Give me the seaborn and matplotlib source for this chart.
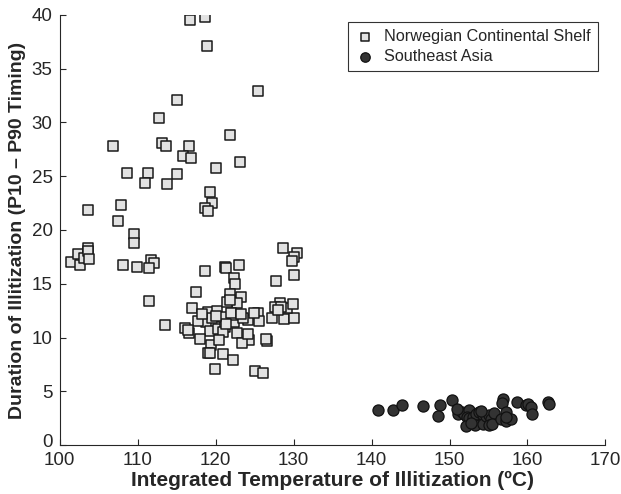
import pandas as pd
import matplotlib
matplotlib.use("Agg")
import matplotlib.pyplot as plt
import matplotlib.transforms as mtransforms
import seaborn as sns

# Norwegian Continental Shelf: integrated temperature vs duration
ncs_temp = [
    116.7, 118.7, 118.9, 125.5, 115.0, 112.7, 121.8, 113.1, 113.7, 116.6,
    106.9, 115.8, 116.8, 123.1, 120.0, 108.7, 111.3, 115.0, 110.9, 113.8,
    119.3, 119.6, 118.7, 119.0, 107.9, 107.5, 103.7, 109.6, 109.5,
    101.5, 102.3, 102.6, 103.1, 103.7, 103.7, 103.8,
    108.1, 109.9, 111.7, 112.1, 111.4, 111.5, 113.5,
    128.7, 130.4, 130.0, 129.8, 130.0, 127.8,
    118.7, 121.2, 121.3, 123.0, 122.3, 122.5, 117.5, 121.8, 123.2, 122.8,
    117.0, 119.0, 120.2, 118.8, 119.3, 120.3, 121.2, 122.3, 122.8, 124.2,
    125.5, 124.3, 123.4, 126.6, 116.1, 116.6, 118.0, 119.4, 119.0, 119.3,
    120.9, 122.2, 119.9, 125.0, 126.1,
    127.2, 128.8, 130.0, 128.2, 129.2, 129.9, 127.6, 128.4, 128.0,
    120.9, 122.5, 123.5, 124.2, 125.6, 124.9, 121.0, 120.5, 121.3, 119.6,
    120.0, 117.8, 118.3, 122.0, 121.5, 121.8, 116.5, 123.3, 126.5,
]
ncs_duration = [
    39.5, 39.8, 37.1, 32.9, 32.1, 30.4, 28.8, 28.1, 27.8, 27.8,
    27.8, 26.9, 26.7, 26.3, 25.8, 25.3, 25.3, 25.2, 24.4, 24.3,
    23.5, 22.5, 22.0, 21.8, 22.3, 20.8, 21.9, 19.6, 18.8,
    17.0, 17.8, 16.7, 17.4, 18.3, 18.0, 17.3,
    16.7, 16.6, 17.2, 16.9, 16.5, 13.4, 11.2,
    18.3, 17.9, 17.5, 17.1, 15.8, 15.3,
    16.2, 16.6, 16.5, 16.7, 15.5, 15.0, 14.2, 14.0, 13.8, 13.2,
    12.7, 12.4, 12.5, 11.4, 10.6, 10.8, 11.0, 11.4, 10.4, 11.6,
    12.3, 9.8, 9.5, 9.7, 10.9, 10.4, 9.9, 9.3, 8.6, 8.6,
    8.5, 7.9, 7.1, 6.9, 6.7,
    11.8, 11.7, 11.8, 13.2, 12.7, 13.1, 12.8, 12.8, 12.6,
    11.9, 12.1, 11.8, 10.3, 11.5, 12.3, 10.5, 9.8, 11.3, 11.8,
    12.0, 11.5, 12.2, 12.3, 13.3, 13.5, 10.7, 12.2, 9.9,
]

# Southeast Asia
sea_temp = [
    140.8, 142.8, 143.9, 146.6, 148.8, 148.5, 150.3, 151.1, 151.6, 151.9,
    152.5, 152.2, 152.5, 152.1, 153.0, 153.4, 153.8, 154.3, 153.3, 154.3,
    154.7, 155.1, 155.3, 155.7, 155.1, 155.5, 156.8, 156.7, 157.2, 156.6,
    157.2, 157.9, 157.2, 158.6, 159.8, 160.1, 160.4, 160.6, 162.6, 162.7,
    151.0, 152.8, 154.0,
]
sea_duration = [
    3.3, 3.3, 3.7, 3.6, 3.7, 2.7, 4.2, 2.9, 3.1, 2.9,
    3.3, 2.6, 2.5, 1.8, 2.6, 2.9, 3.1, 2.8, 1.9, 2.0,
    2.7, 2.8, 2.4, 3.0, 1.9, 2.0, 4.3, 3.9, 3.1, 2.4,
    2.2, 2.4, 2.6, 4.0, 3.7, 3.8, 3.5, 2.9, 4.0, 3.8,
    3.4, 2.1, 3.2,
]

x_ticks = [100, 110, 120, 130, 140, 150, 160, 170]
y_ticks = [0, 5, 10, 15, 20, 25, 30, 35, 40]

sns.set_style("ticks")
plt.rcParams["font.family"] = ["Liberation Sans", "DejaVu Sans"]

fig = plt.figure(figsize=(6.21, 4.94), dpi=100)
ax = fig.add_axes([0.096, 0.099, 0.879, 0.871])

ncs = pd.DataFrame({"temp": ncs_temp, "dur": ncs_duration})
sea = pd.DataFrame({"temp": sea_temp, "dur": sea_duration})

sns.scatterplot(data=ncs, x="temp", y="dur", ax=ax, marker="s", s=52,
                color="#e2e2e2", edgecolor="#1a1a1a", linewidth=1.1,
                label="Norwegian Continental Shelf", zorder=3)
sns.scatterplot(data=sea, x="temp", y="dur", ax=ax, marker="o", s=64,
                color="#333333", edgecolor="#111111", linewidth=0.9,
                label="Southeast Asia", zorder=3)

ax.set_xlim(100, 170)
ax.set_ylim(0, 40)
ax.set_xticks(x_ticks)
ax.set_yticks(y_ticks)
ax.tick_params(direction="in", length=4, width=0.8, labelsize=13.5)
ax.tick_params(axis="x", pad=5)
ax.tick_params(axis="y", pad=5)
sns.despine(ax=ax)
for side in ["left", "bottom"]:
    ax.spines[side].set_linewidth(0.8)

# nudge the "0" label up a little so it clears "100" in the corner
zero_lbl = ax.get_yticklabels()[0]
zero_lbl.set_transform(zero_lbl.get_transform() +
                       mtransforms.ScaledTranslation(0, 3 / 72, fig.dpi_scale_trans))

ax.set_xlabel("Integrated Temperature of Illitization (ºC)",
              fontsize=15, fontweight="bold", labelpad=1)
ax.set_ylabel("Duration of Illitization (P10 \u2013 P90 Timing)",
              fontsize=14, fontweight="bold", labelpad=4)

leg = ax.legend(loc="upper right", bbox_to_anchor=(0.987, 0.984),
                borderaxespad=0, fontsize=11.7, frameon=True, fancybox=False,
                edgecolor="black", handlelength=1.2, handletextpad=0.6,
                borderpad=0.45, labelspacing=0.3, markerscale=0.85)
leg.get_frame().set_linewidth(0.8)

fig.savefig("out.png", dpi=100)
